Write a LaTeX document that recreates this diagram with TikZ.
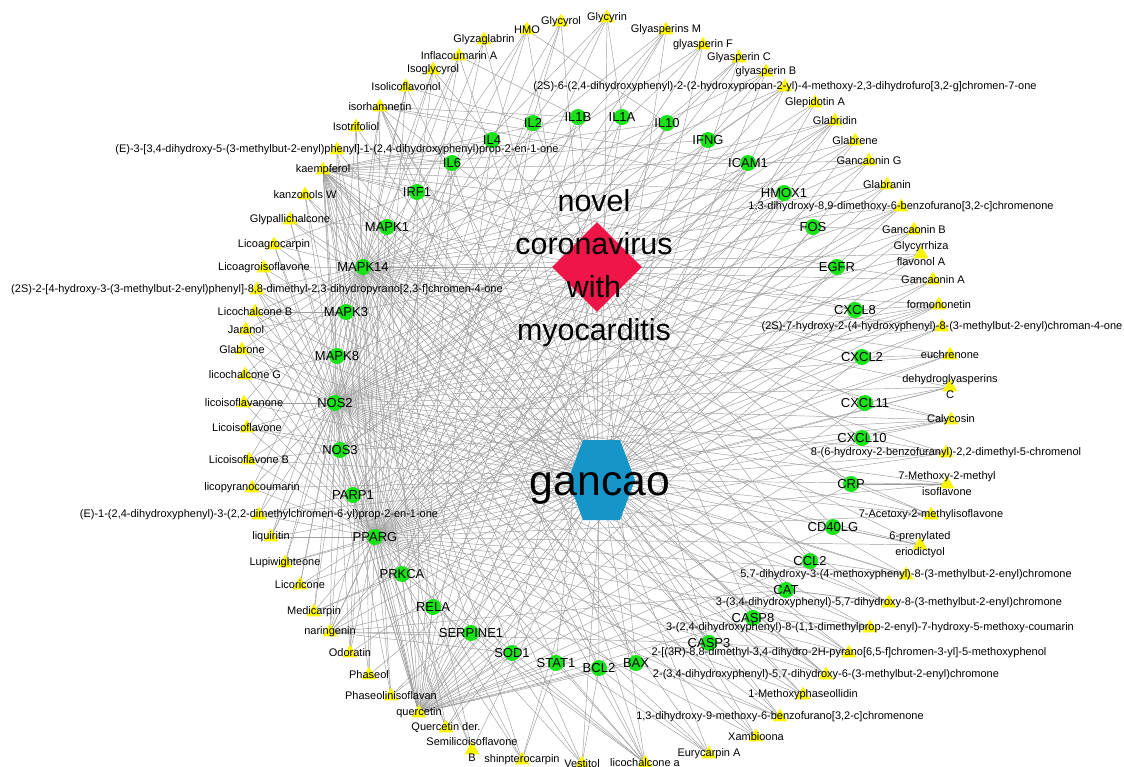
\documentclass[tikz,border=0pt]{standalone}
\usepackage{fontspec}
\setmainfont{Liberation Sans}
\usetikzlibrary{shapes.geometric}
\pgfdeclarelayer{bglayer}
\pgfdeclarelayer{edgelayer}
\pgfsetlayers{bglayer,edgelayer,main}
\definecolor{tgreen}{RGB}{24,226,24}
\definecolor{cyellow}{RGB}{250,245,0}
\definecolor{disred}{RGB}{238,22,72}
\definecolor{herbblue}{RGB}{22,150,200}
\definecolor{edgegray}{RGB}{158,158,158}
\begin{document}
\begin{tikzpicture}[x=1pt,y=-1pt,
  tgt/.style={circle,fill=tgreen,minimum size=16pt,inner sep=0pt},
  tlab/.style={font=\fontsize{13}{15}\selectfont,inner sep=0pt},
  ctri/.style={regular polygon,regular polygon sides=3,fill=cyellow,minimum size=17pt,inner sep=0pt},
  clab/.style={font=\fontsize{11}{16}\selectfont,align=center,inner sep=0pt},
  edge/.style={draw=edgegray,line width=0.45pt}]
\begin{pgfonlayer}{bglayer}
\fill[white] (0,0) rectangle (1124,766);
\end{pgfonlayer}
\useasboundingbox (0,0) rectangle (1124,766);

% hubs
\node[diamond,fill=disred,minimum size=90pt,inner sep=0pt] (dis) at (597,267) {};
\node[align=center,inner sep=0pt,font=\fontsize{30.4}{43}\selectfont] (distext) at (594,268) {novel\\coronavirus\\with\\myocarditis};
\node[rectangle,minimum width=67pt,minimum height=80pt,inner sep=0pt] (gancao) at (601.5,480) {};
\fill[herbblue] (568,480) -- (583,440) -- (620,440) -- (635,480) -- (620,520) -- (583,520) -- cycle;
\node[anchor=base,inner sep=0pt,font=\fontsize{42.7}{50}\selectfont] (gancaotext) at (600,495) {gancao};

% targets
\foreach \n/\x/\y in {IL6/452/163, IL4/492/140, IL2/533/123, IL1B/578/117, IL1A/622/117, IL10/667/123, IFNG/708/140, ICAM1/748/163, HMOX1/784/193, FOS/813/227, EGFR/837/267, CXCL8/855/310, CXCL2/862/357, CXCL11/865/403, CXCL10/862/438, CRP/851/484, CD40LG/833/527, CCL2/810/561, CAT/786/590, CASP8/753/618, CASP3/709/643, BAX/636/663, BCL2/599/668, STAT1/556/663, SOD1/512/653, SERPINE1/471/633, RELA/433/607, PRKCA/402/574, PPARG/375/537, PARP1/353/495, NOS3/340/450, NOS2/335/403, MAPK8/337/356, MAPK3/346/312, MAPK14/363/267, MAPK1/387/227, IRF1/417/192}
  \node[tgt,label={[tlab]center:\n}] (\n) at (\x,\y) {};

% compounds
\foreach \n/\x/\y/\txt in {
c1/484/40/{Glyzaglabrin},
c2/527/30/{HMO},
c3/561/22/{Glycyrol},
c4/607/18/{Glycyrin},
c5/666/30/{Glyasperins M},
c6/703/45/{glyasperin F},
c7/739/58/{Glyasperin C},
c8/766/72/{glyasperin B},
c9/785/87/{(2S)-6-(2,4-dihydroxyphenyl)-2-(2-hydroxypropan-2-yl)-4-methoxy-2,3-dihydrofuro[3,2-g]chromen-7-one},
c10/815/103/{Glepidotin A},
c11/835/121/{Glabridin},
c12/855/141/{Glabrene},
c13/869/161/{Gancaonin G},
c14/887/185/{Glabranin},
c15/901/207/{1,3-dihydroxy-8,9-dimethoxy-6-benzofurano[3,2-c]chromenone},
c16/914/230/{Gancaonin B},
c17/921/254/{Glycyrrhiza\\flavonol A},
c18/933/280/{Gancaonin A},
c19/939/305/{formononetin},
c20/942/327/{(2S)-7-hydroxy-2-(4-hydroxyphenyl)-8-(3-methylbut-2-enyl)chroman-4-one},
c21/950/355/{euchrenone},
c22/950/387/{dehydroglyasperins\\C},
c23/951/420/{Calycosin},
c24/946/453/{8-(6-hydroxy-2-benzofuranyl)-2,2-dimethyl-5-chromenol},
c25/947/484/{7-Methoxy-2-methyl\\isoflavone},
c26/931/515/{7-Acetoxy-2-methylisoflavone},
c27/920/545/{6-prenylated\\eriodictyol},
c28/906/575/{5,7-dihydroxy-3-(4-methoxyphenyl)-8-(3-methylbut-2-enyl)chromone},
c29/889/603/{3-(3,4-dihydroxyphenyl)-5,7-dihydroxy-8-(3-methylbut-2-enyl)chromone},
c30/870/628/{3-(2,4-dihydroxyphenyl)-8-(1,1-dimethylprop-2-enyl)-7-hydroxy-5-methoxy-coumarin},
c31/849/653/{2-[(3R)-8,8-dimethyl-3,4-dihydro-2H-pyrano[6,5-f]chromen-3-yl]-5-methoxyphenol},
c32/826/675/{2-(3,4-dihydroxyphenyl)-5,7-dihydroxy-6-(3-methylbut-2-enyl)chromone},
c33/803/695/{1-Methoxyphaseollidin},
c34/780/717/{1,3-dihydroxy-9-methoxy-6-benzofurano[3,2-c]chromenone},
c35/756/737/{Xambioona},
c36/709/754/{Eurycarpin A},
c37/645/763/{licochalcone a},
c38/582/764/{Vestitol},
c39/522/760/{shinpterocarpin},
c40/472/750/{Semilicoisoflavone\\B},
c41/446/728/{Quercetin der.},
c42/419/713/{quercetin},
c43/391/696/{Phaseolinisoflavan},
c44/369/675/{Phaseol},
c45/350/653/{Odoratin},
c46/330/632/{naringenin},
c47/314/612/{Medicarpin},
c48/300/585/{Licoricone},
c49/285/563/{Lupiwighteone},
c50/271/537/{liquiritin},
c51/259/515/{(E)-1-(2,4-dihydroxyphenyl)-3-(2,2-dimethylchromen-6-yl)prop-2-en-1-one},
c52/252/488/{licopyranocoumarin},
c53/249/460/{Licoisoflavone B},
c54/247/428/{Licoisoflavone},
c55/244/403/{licoisoflavanone},
c56/245/375/{licochalcone G},
c57/242/350/{Glabrone},
c58/246/330/{Jaranol},
c59/255/312/{Licochalcone B},
c60/257/290/{(2S)-2-[4-hydroxy-3-(3-methylbut-2-enyl)phenyl]-8,8-dimethyl-2,3-dihydropyrano[2,3-f]chromen-4-one},
c61/264/268/{Licoagroisoflavone},
c62/274/245/{Licoagrocarpin},
c63/290/220/{Glypallichalcone},
c64/305/195/{kanzonols W},
c65/323/170/{kaempferol},
c66/337/150/{(E)-3-[3,4-dihydroxy-5-(3-methylbut-2-enyl)phenyl]-1-(2,4-dihydroxyphenyl)prop-2-en-1-one},
c67/356/127/{Isotrifoliol},
c68/380/107/{isorhamnetin},
c69/406/87/{Isolicoflavonol},
c70/433/70/{Isoglycyrol},
c71/459/56/{Inflacoumarin A}}
{
  \node[ctri] (\n) at (\x,\y) {};
  \node[clab] (\n-l) at (\x,\y) {\txt};
}

% edges
\begin{pgfonlayer}{edgelayer}
\def\alltargets{IL6,IL4,IL2,IL1B,IL1A,IL10,IFNG,ICAM1,HMOX1,FOS,EGFR,CXCL8,CXCL2,CXCL11,CXCL10,CRP,CD40LG,CCL2,CAT,CASP8,CASP3,BAX,BCL2,STAT1,SOD1,SERPINE1,RELA,PRKCA,PPARG,PARP1,NOS3,NOS2,MAPK8,MAPK3,MAPK14,MAPK1,IRF1}
\foreach \t in \alltargets \draw[edge] (dis.center) -- (\t.center);
\foreach \i in {1,...,71} \draw[edge] (gancao.center) -- (c\i.center);
\foreach \i in {1,...,71} {
  \draw[edge] (c\i.center) -- (PPARG.center);
  \draw[edge] (c\i.center) -- (NOS2.center);
}
\foreach \i in {2,4,5,6,8,9,11,12,13,14,15,17,18,19,20,21,22,23,24,26,27,28,29,31,32,33,34,35,36,37,38,39,40,41,43,44,45,46,47,48,49,50,51,52,53,54,55,56,57,58,59,60,61,62,63,64,65,66,67,68,69,70,71}
  \draw[edge] (c\i.center) -- (MAPK14.center);
\foreach \t in \alltargets \draw[edge] (c42.center) -- (\t.center);
\foreach \t in {IL6,IL4,IL1B,IL10,IFNG,ICAM1,HMOX1,FOS,EGFR,CXCL8,CRP,CCL2,CAT,CASP8,CASP3,BAX,BCL2,STAT1,SOD1,SERPINE1,RELA,PRKCA,NOS3,MAPK1,MAPK8,MAPK3,IRF1}
  \draw[edge] (c65.center) -- (\t.center);
\foreach \a/\b in {c46/SERPINE1,c46/SOD1,c46/CAT,c46/ICAM1,c46/IL6,c46/IL1B,c46/HMOX1,c46/RELA,c46/CASP3,
  c68/IL6,c68/ICAM1,c68/HMOX1,c68/BCL2,c68/BAX,c68/CASP3,c68/IL1B,
  c3/PRKCA,c5/PARP1,c7/NOS3,c11/NOS3,c11/PRKCA,c11/MAPK1,c15/PARP1,
  c19/NOS3,c19/PARP1,c19/CXCL8,c22/CXCL11,c23/NOS3,c23/PARP1,c23/CXCL11,c24/CXCL10,c25/CRP,
  c27/CD40LG,c28/CCL2,c29/CAT,c30/CASP8,c31/CASP3,c34/BAX,c36/BCL2,
  c37/IL6,c37/PRKCA,c37/STAT1,c37/RELA,c37/BCL2,c38/BCL2,c39/STAT1,c41/SOD1,c43/SERPINE1,
  c45/MAPK1,c47/PRKCA,c50/IL6,c51/PARP1,c54/NOS3,c56/MAPK8,c58/MAPK3,c59/MAPK3,c63/MAPK1,
  c66/IL6,c70/IL4,c2/IL10,c4/IL1A,c9/IFNG,c13/ICAM1,c16/FOS,c18/EGFR,c21/CXCL2,c26/CRP,c32/CASP8,c62/IRF1,c69/IL2,c71/IL1B,c60/MAPK8,c53/NOS3}
  \draw[edge] (\a.center) -- (\b.center);
\end{pgfonlayer}
\end{tikzpicture}
\end{document}
